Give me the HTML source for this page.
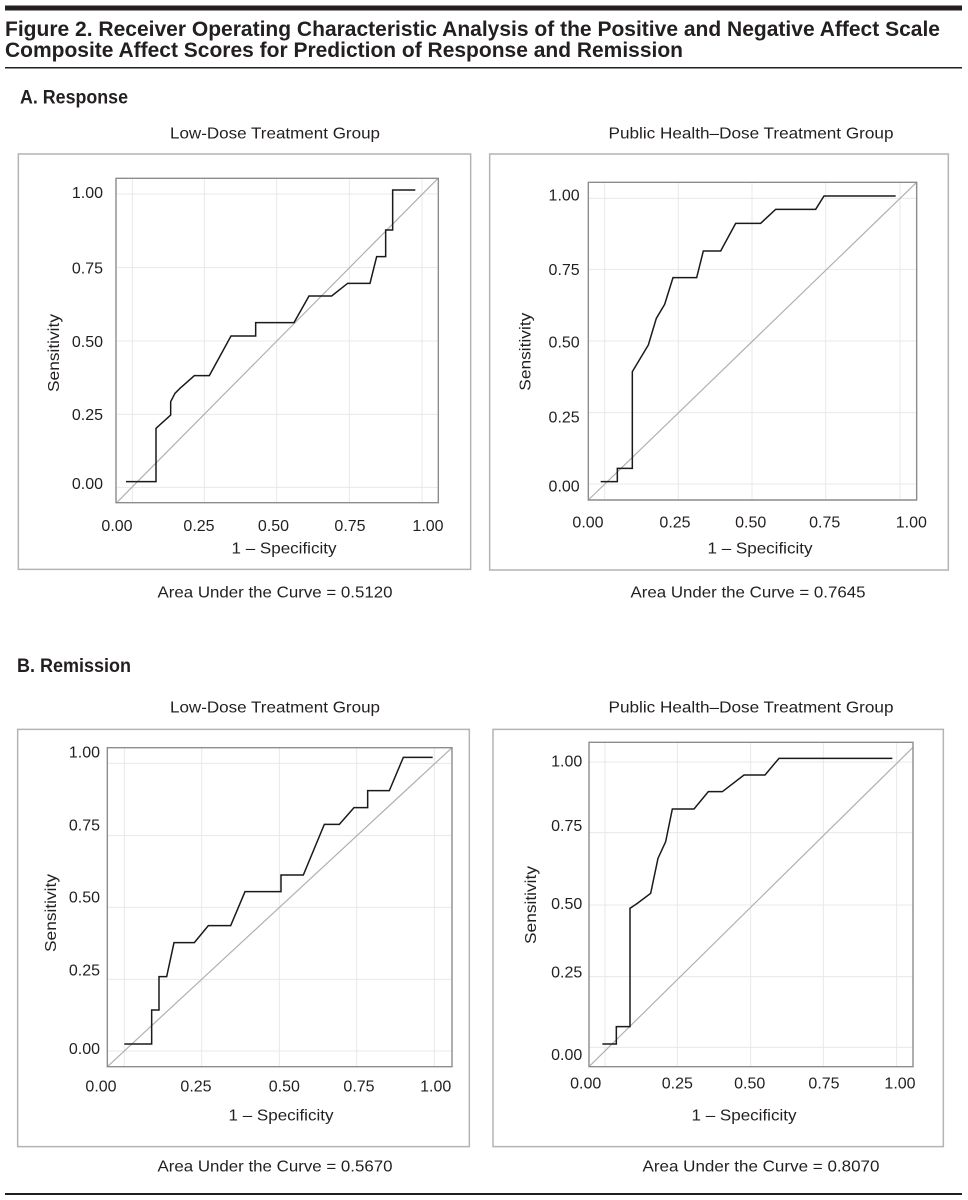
<!DOCTYPE html>
<html><head><meta charset="utf-8">
<style>
html,body{margin:0;padding:0;background:#fff;}
svg{display:block;}
text{font-family:"Liberation Sans",sans-serif;fill:#231f20;}
.t{font-size:16px;}
.tk{font-size:16px;}
.hd{font-weight:bold;}
</style></head>
<body>
<svg width="968" height="1200" viewBox="0 0 968 1200" xmlns="http://www.w3.org/2000/svg">
<!-- header -->
<rect x="5" y="5.5" width="957" height="5" fill="#231f20"/>
<text class="hd" x="5" y="36" font-size="21" textLength="935" lengthAdjust="spacingAndGlyphs">Figure 2. Receiver Operating Characteristic Analysis of the Positive and Negative Affect Scale</text>
<text class="hd" x="5" y="57" font-size="21" textLength="678" lengthAdjust="spacingAndGlyphs">Composite Affect Scores for Prediction of Response and Remission</text>
<rect x="5" y="67" width="957" height="1.5" fill="#231f20"/>
<text class="hd" x="20" y="103.5" font-size="19" textLength="108" lengthAdjust="spacingAndGlyphs">A. Response</text>
<text class="hd" x="17" y="672" font-size="19" textLength="114" lengthAdjust="spacingAndGlyphs">B. Remission</text>

<!-- panel titles -->
<text class="t" x="275" y="138.5" text-anchor="middle" textLength="210" lengthAdjust="spacingAndGlyphs">Low-Dose Treatment Group</text>
<text class="t" x="751" y="138.5" text-anchor="middle" textLength="285" lengthAdjust="spacingAndGlyphs">Public Health–Dose Treatment Group</text>
<text class="t" x="275" y="712.5" text-anchor="middle" textLength="210" lengthAdjust="spacingAndGlyphs">Low-Dose Treatment Group</text>
<text class="t" x="751" y="712.5" text-anchor="middle" textLength="285" lengthAdjust="spacingAndGlyphs">Public Health–Dose Treatment Group</text>

<!-- ===== Panel A-left ===== -->
<g transform="translate(0,140) scale(0.33333)" fill="none">
  <rect x="55" y="42" width="1357" height="1246" stroke="#b4b4b4" stroke-width="1.5" vector-effect="non-scaling-stroke"/>
  <g stroke="#e8e8e8" stroke-width="1">
    <line x1="397" y1="115" x2="397" y2="1088" vector-effect="non-scaling-stroke"/>
    <line x1="613" y1="115" x2="613" y2="1088" vector-effect="non-scaling-stroke"/>
    <line x1="830" y1="115" x2="830" y2="1088" vector-effect="non-scaling-stroke"/>
    <line x1="1048" y1="115" x2="1048" y2="1088" vector-effect="non-scaling-stroke"/>
    <line x1="1266" y1="115" x2="1266" y2="1088" vector-effect="non-scaling-stroke"/>
    <line x1="348" y1="162" x2="1315" y2="162" vector-effect="non-scaling-stroke"/>
    <line x1="348" y1="383" x2="1315" y2="383" vector-effect="non-scaling-stroke"/>
    <line x1="348" y1="603" x2="1315" y2="603" vector-effect="non-scaling-stroke"/>
    <line x1="348" y1="823" x2="1315" y2="823" vector-effect="non-scaling-stroke"/>
    <line x1="348" y1="1042" x2="1315" y2="1042" vector-effect="non-scaling-stroke"/>
  </g>
  <line x1="350" y1="1088" x2="1313" y2="116" stroke="#b0b0b0" stroke-width="1.2" vector-effect="non-scaling-stroke"/>
  <rect x="348" y="115" width="967" height="973" stroke="#8c8c8c" stroke-width="1.4" vector-effect="non-scaling-stroke"/>
  <polyline stroke="#1a1a1a" stroke-width="1.5" vector-effect="non-scaling-stroke" points="378,1025 468,1025 468,865 512,825 512,785 525,760 540,745 583,707 628,707 693,588 767,588 767,548 882,548 927,468 995,468 1043,430 1110,430 1130,350 1157,350 1157,270 1178,270 1178,150 1246,150"/>
</g>
<text class="tk" x="103" y="198" text-anchor="end">1.00</text>
<text class="tk" x="103" y="273.5" text-anchor="end">0.75</text>
<text class="tk" x="103" y="346.8" text-anchor="end">0.50</text>
<text class="tk" x="103" y="420" text-anchor="end">0.25</text>
<text class="tk" x="103" y="489" text-anchor="end">0.00</text>
<text class="tk" x="117" y="531" text-anchor="middle">0.00</text>
<text class="tk" x="199" y="531" text-anchor="middle">0.25</text>
<text class="tk" x="273.5" y="531" text-anchor="middle">0.50</text>
<text class="tk" x="350" y="531" text-anchor="middle">0.75</text>
<text class="tk" x="428" y="531" text-anchor="middle">1.00</text>
<text class="t" x="284" y="553.5" text-anchor="middle" textLength="105" lengthAdjust="spacingAndGlyphs">1 – Specificity</text>
<text class="t" transform="translate(59,353) rotate(-90)" x="0" y="0" text-anchor="middle" textLength="78" lengthAdjust="spacingAndGlyphs">Sensitivity</text>
<text class="t" x="275" y="597.5" text-anchor="middle" textLength="235" lengthAdjust="spacingAndGlyphs">Area Under the Curve = 0.5120</text>

<!-- ===== Panel A-right ===== -->
<g transform="translate(484,140) scale(0.33333)" fill="none">
  <rect x="17" y="42" width="1376" height="1248" stroke="#b4b4b4" stroke-width="1.5" vector-effect="non-scaling-stroke"/>
  <g stroke="#e8e8e8">
    <line x1="362" y1="127" x2="362" y2="1080" vector-effect="non-scaling-stroke"/>
    <line x1="583" y1="127" x2="583" y2="1080" vector-effect="non-scaling-stroke"/>
    <line x1="804" y1="127" x2="804" y2="1080" vector-effect="non-scaling-stroke"/>
    <line x1="1025" y1="127" x2="1025" y2="1080" vector-effect="non-scaling-stroke"/>
    <line x1="1248" y1="127" x2="1248" y2="1080" vector-effect="non-scaling-stroke"/>
    <line x1="313" y1="175" x2="1298" y2="175" vector-effect="non-scaling-stroke"/>
    <line x1="313" y1="388" x2="1298" y2="388" vector-effect="non-scaling-stroke"/>
    <line x1="313" y1="603" x2="1298" y2="603" vector-effect="non-scaling-stroke"/>
    <line x1="313" y1="818" x2="1298" y2="818" vector-effect="non-scaling-stroke"/>
    <line x1="313" y1="1032" x2="1298" y2="1032" vector-effect="non-scaling-stroke"/>
  </g>
  <line x1="313" y1="1080" x2="1298" y2="127" stroke="#b0b0b0" stroke-width="1.2" vector-effect="non-scaling-stroke"/>
  <rect x="313" y="127" width="985" height="953" stroke="#8c8c8c" stroke-width="1.4" vector-effect="non-scaling-stroke"/>
  <polyline stroke="#1a1a1a" stroke-width="1.5" vector-effect="non-scaling-stroke" points="350,1025 400,1025 400,985 445,985 445,695 493,615 517,535 542,493 567,413 638,413 658,333 710,333 755,250 830,250 875,208 995,208 1020,168 1235,168"/>
</g>
<text class="tk" x="579.7" y="200.7" text-anchor="end">1.00</text>
<text class="tk" x="579.7" y="275" text-anchor="end">0.75</text>
<text class="tk" x="579.7" y="347.4" text-anchor="end">0.50</text>
<text class="tk" x="579.7" y="422.4" text-anchor="end">0.25</text>
<text class="tk" x="579.7" y="491.7" text-anchor="end">0.00</text>
<text class="tk" x="588" y="527.4" text-anchor="middle">0.00</text>
<text class="tk" x="675" y="527.4" text-anchor="middle">0.25</text>
<text class="tk" x="750.7" y="527.4" text-anchor="middle">0.50</text>
<text class="tk" x="824.7" y="527.4" text-anchor="middle">0.75</text>
<text class="tk" x="911.3" y="527.4" text-anchor="middle">1.00</text>
<text class="t" x="760" y="553.5" text-anchor="middle" textLength="105" lengthAdjust="spacingAndGlyphs">1 – Specificity</text>
<text class="t" transform="translate(530.5,351.7) rotate(-90)" x="0" y="0" text-anchor="middle" textLength="78" lengthAdjust="spacingAndGlyphs">Sensitivity</text>
<text class="t" x="748" y="597.5" text-anchor="middle" textLength="235" lengthAdjust="spacingAndGlyphs">Area Under the Curve = 0.7645</text>

<!-- ===== Panel B-left ===== -->
<g transform="translate(0,640) scale(0.33333)" fill="none">
  <rect x="53" y="268" width="1355" height="1252" stroke="#b4b4b4" stroke-width="1.5" vector-effect="non-scaling-stroke"/>
  <g stroke="#e8e8e8">
    <line x1="373" y1="323" x2="373" y2="1280" vector-effect="non-scaling-stroke"/>
    <line x1="605" y1="323" x2="605" y2="1280" vector-effect="non-scaling-stroke"/>
    <line x1="838" y1="323" x2="838" y2="1280" vector-effect="non-scaling-stroke"/>
    <line x1="1070" y1="323" x2="1070" y2="1280" vector-effect="non-scaling-stroke"/>
    <line x1="1303" y1="323" x2="1303" y2="1280" vector-effect="non-scaling-stroke"/>
    <line x1="322" y1="370" x2="1356" y2="370" vector-effect="non-scaling-stroke"/>
    <line x1="322" y1="587" x2="1356" y2="587" vector-effect="non-scaling-stroke"/>
    <line x1="322" y1="802" x2="1356" y2="802" vector-effect="non-scaling-stroke"/>
    <line x1="322" y1="1018" x2="1356" y2="1018" vector-effect="non-scaling-stroke"/>
    <line x1="322" y1="1233" x2="1356" y2="1233" vector-effect="non-scaling-stroke"/>
  </g>
  <line x1="322" y1="1280" x2="1356" y2="323" stroke="#b0b0b0" stroke-width="1.2" vector-effect="non-scaling-stroke"/>
  <rect x="322" y="323" width="1034" height="957" stroke="#8c8c8c" stroke-width="1.4" vector-effect="non-scaling-stroke"/>
  <polyline stroke="#1a1a1a" stroke-width="1.5" vector-effect="non-scaling-stroke" points="373,1212 455,1212 455,1110 477,1110 477,1010 500,1010 522,908 583,908 625,857 692,857 735,755 843,755 843,705 910,705 973,553 1018,553 1062,503 1103,503 1103,452 1168,452 1210,352 1298,352"/>
</g>
<text class="tk" x="100" y="757.4" text-anchor="end">1.00</text>
<text class="tk" x="100" y="830.7" text-anchor="end">0.75</text>
<text class="tk" x="100" y="902.4" text-anchor="end">0.50</text>
<text class="tk" x="100" y="975.7" text-anchor="end">0.25</text>
<text class="tk" x="100" y="1054" text-anchor="end">0.00</text>
<text class="tk" x="101" y="1091.4" text-anchor="middle">0.00</text>
<text class="tk" x="196" y="1091.4" text-anchor="middle">0.25</text>
<text class="tk" x="284.3" y="1091.4" text-anchor="middle">0.50</text>
<text class="tk" x="359" y="1091.4" text-anchor="middle">0.75</text>
<text class="tk" x="435.7" y="1091.4" text-anchor="middle">1.00</text>
<text class="t" x="281" y="1120.7" text-anchor="middle" textLength="105" lengthAdjust="spacingAndGlyphs">1 – Specificity</text>
<text class="t" transform="translate(56,913) rotate(-90)" x="0" y="0" text-anchor="middle" textLength="78" lengthAdjust="spacingAndGlyphs">Sensitivity</text>
<text class="t" x="275" y="1171.7" text-anchor="middle" textLength="235" lengthAdjust="spacingAndGlyphs">Area Under the Curve = 0.5670</text>

<!-- ===== Panel B-right ===== -->
<g transform="translate(484,640) scale(0.33333)" fill="none">
  <rect x="27" y="268" width="1351" height="1252" stroke="#b4b4b4" stroke-width="1.5" vector-effect="non-scaling-stroke"/>
  <g stroke="#e8e8e8">
    <line x1="363" y1="307" x2="363" y2="1280" vector-effect="non-scaling-stroke"/>
    <line x1="580" y1="307" x2="580" y2="1280" vector-effect="non-scaling-stroke"/>
    <line x1="800" y1="307" x2="800" y2="1280" vector-effect="non-scaling-stroke"/>
    <line x1="1018" y1="307" x2="1018" y2="1280" vector-effect="non-scaling-stroke"/>
    <line x1="1238" y1="307" x2="1238" y2="1280" vector-effect="non-scaling-stroke"/>
    <line x1="315" y1="366" x2="1287" y2="366" vector-effect="non-scaling-stroke"/>
    <line x1="315" y1="578" x2="1287" y2="578" vector-effect="non-scaling-stroke"/>
    <line x1="315" y1="795" x2="1287" y2="795" vector-effect="non-scaling-stroke"/>
    <line x1="315" y1="1010" x2="1287" y2="1010" vector-effect="non-scaling-stroke"/>
    <line x1="315" y1="1222" x2="1287" y2="1222" vector-effect="non-scaling-stroke"/>
  </g>
  <line x1="315" y1="1280" x2="1287" y2="322" stroke="#b0b0b0" stroke-width="1.2" vector-effect="non-scaling-stroke"/>
  <rect x="315" y="307" width="972" height="973" stroke="#8c8c8c" stroke-width="1.4" vector-effect="non-scaling-stroke"/>
  <polyline stroke="#1a1a1a" stroke-width="1.5" vector-effect="non-scaling-stroke" points="355,1212 397,1212 397,1160 438,1160 438,805 460,790 500,760 522,655 545,605 565,507 630,507 673,455 715,455 780,405 843,405 885,355 1225,355"/>
</g>
<text class="tk" x="582.3" y="766.4" text-anchor="end">1.00</text>
<text class="tk" x="582.3" y="831" text-anchor="end">0.75</text>
<text class="tk" x="582.3" y="909" text-anchor="end">0.50</text>
<text class="tk" x="582.3" y="977.4" text-anchor="end">0.25</text>
<text class="tk" x="582.3" y="1060" text-anchor="end">0.00</text>
<text class="tk" x="585.7" y="1088.4" text-anchor="middle">0.00</text>
<text class="tk" x="677.3" y="1088.4" text-anchor="middle">0.25</text>
<text class="tk" x="749.7" y="1088.4" text-anchor="middle">0.50</text>
<text class="tk" x="824" y="1088.4" text-anchor="middle">0.75</text>
<text class="tk" x="900" y="1088.4" text-anchor="middle">1.00</text>
<text class="t" x="744" y="1120.7" text-anchor="middle" textLength="105" lengthAdjust="spacingAndGlyphs">1 – Specificity</text>
<text class="t" transform="translate(536,905) rotate(-90)" x="0" y="0" text-anchor="middle" textLength="78" lengthAdjust="spacingAndGlyphs">Sensitivity</text>
<text class="t" x="761" y="1171.7" text-anchor="middle" textLength="237" lengthAdjust="spacingAndGlyphs">Area Under the Curve = 0.8070</text>

<!-- bottom rule -->
<rect x="5" y="1193" width="957" height="2" fill="#231f20"/>
</svg>
</body></html>
